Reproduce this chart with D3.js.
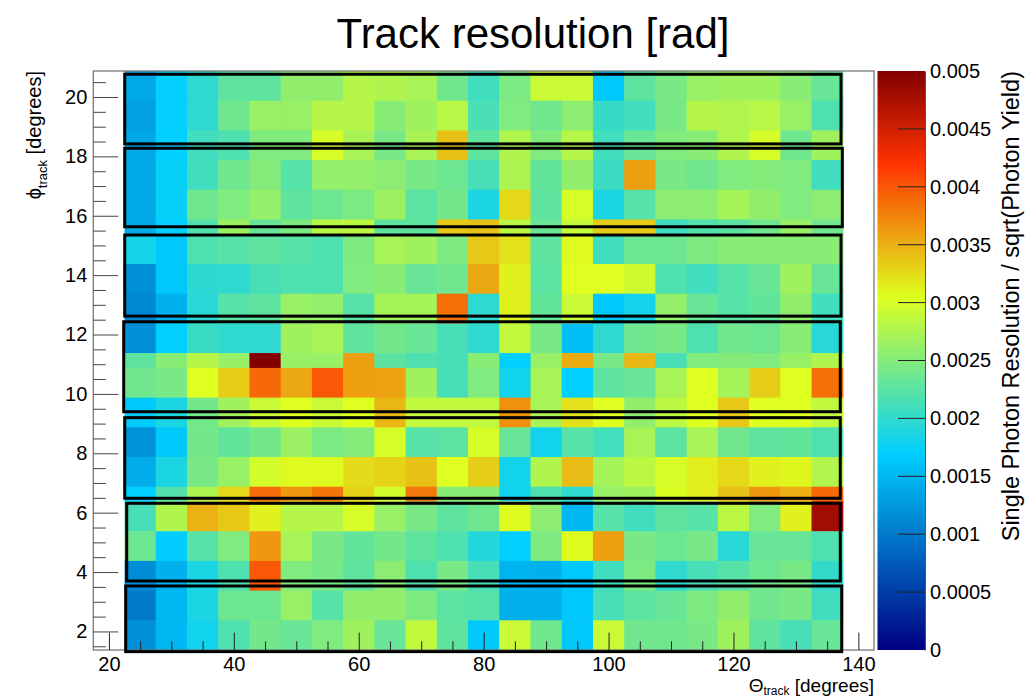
<!DOCTYPE html>
<html>
<head>
<meta charset="utf-8">
<script src="https://cdn.jsdelivr.net/npm/d3@7"></script>
<style>
  body { margin: 0; background: #fff; }
  text { font-family: "Liberation Sans", Arial, Helvetica, sans-serif; }
</style>
</head>
<body>
<svg id="chart" width="1029" height="700"></svg>
<script>
// ---------------- DATA ----------------
// theta bin edges (degrees), 5-degree bins
const thetaEdges = [22.5, 27.5, 32.5, 37.5, 42.5, 47.5, 52.5, 57.5, 62.5, 67.5, 72.5, 77.5,
  82.5, 87.5, 92.5, 97.5, 102.5, 107.5, 112.5, 117.5, 122.5, 127.5, 132.5, 137.5];
// phi row edges (degrees), top to bottom
const phiEdges = [20.875, 19.875, 18.875, 17.875, 16.875, 15.875, 15.375, 14.375, 13.375, 12.375,
  11.375, 10.875, 9.875, 8.875, 7.875, 6.875, 6.375, 5.375, 4.375, 3.375, 2.375, 1.375];
// resolution values [rad], one array per phi row (top to bottom), 23 theta bins each
const resolution = [
  [0.00138,0.00172,0.00199,0.00228,0.00228,0.00258,0.00258,0.00280,0.00277,0.00272,0.00238,0.00209,0.00245,0.00292,0.00292,0.00164,0.00228,0.00243,0.00262,0.00267,0.00267,0.00253,0.00233],
  [0.00131,0.00172,0.00199,0.00238,0.00262,0.00262,0.00280,0.00280,0.00253,0.00267,0.00282,0.00215,0.00248,0.00238,0.00255,0.00203,0.00209,0.00243,0.00280,0.00278,0.00282,0.00262,0.00218],
  [0.00138,0.00170,0.00209,0.00218,0.00248,0.00248,0.00300,0.00272,0.00243,0.00272,0.00340,0.00228,0.00277,0.00248,0.00280,0.00209,0.00233,0.00248,0.00253,0.00277,0.00300,0.00238,0.00267],
  [0.00138,0.00174,0.00209,0.00238,0.00250,0.00223,0.00260,0.00260,0.00255,0.00243,0.00236,0.00213,0.00274,0.00230,0.00258,0.00207,0.00359,0.00243,0.00238,0.00248,0.00250,0.00248,0.00209],
  [0.00138,0.00174,0.00238,0.00248,0.00260,0.00228,0.00236,0.00245,0.00265,0.00226,0.00240,0.00187,0.00327,0.00228,0.00300,0.00187,0.00223,0.00255,0.00255,0.00270,0.00258,0.00248,0.00255],
  [0.00140,0.00170,0.00220,0.00265,0.00232,0.00246,0.00282,0.00285,0.00228,0.00228,0.00336,0.00340,0.00284,0.00233,0.00290,0.00335,0.00335,0.00209,0.00220,0.00226,0.00238,0.00262,0.00238],
  [0.00183,0.00164,0.00218,0.00223,0.00228,0.00223,0.00218,0.00246,0.00272,0.00267,0.00246,0.00336,0.00322,0.00228,0.00308,0.00209,0.00236,0.00236,0.00246,0.00253,0.00253,0.00253,0.00253],
  [0.00118,0.00164,0.00197,0.00199,0.00213,0.00218,0.00218,0.00248,0.00253,0.00233,0.00238,0.00354,0.00313,0.00226,0.00305,0.00305,0.00295,0.00218,0.00209,0.00223,0.00233,0.00267,0.00233],
  [0.00112,0.00145,0.00195,0.00223,0.00228,0.00262,0.00260,0.00223,0.00270,0.00270,0.00386,0.00199,0.00313,0.00230,0.00292,0.00164,0.00182,0.00260,0.00233,0.00223,0.00230,0.00258,0.00209],
  [0.00118,0.00170,0.00205,0.00199,0.00199,0.00267,0.00272,0.00228,0.00240,0.00233,0.00213,0.00199,0.00287,0.00243,0.00158,0.00199,0.00238,0.00243,0.00218,0.00238,0.00236,0.00253,0.00194],
  [0.00228,0.00253,0.00280,0.00262,0.00500,0.00262,0.00262,0.00359,0.00226,0.00218,0.00213,0.00253,0.00170,0.00262,0.00352,0.00243,0.00345,0.00213,0.00248,0.00250,0.00248,0.00262,0.00277],
  [0.00238,0.00243,0.00305,0.00333,0.00390,0.00354,0.00399,0.00359,0.00357,0.00267,0.00213,0.00248,0.00181,0.00272,0.00170,0.00228,0.00233,0.00272,0.00305,0.00270,0.00333,0.00305,0.00386],
  [0.00167,0.00187,0.00240,0.00267,0.00292,0.00305,0.00292,0.00305,0.00345,0.00287,0.00287,0.00287,0.00367,0.00272,0.00322,0.00305,0.00258,0.00284,0.00305,0.00336,0.00305,0.00305,0.00287],
  [0.00120,0.00164,0.00240,0.00230,0.00240,0.00264,0.00245,0.00250,0.00300,0.00223,0.00226,0.00300,0.00233,0.00181,0.00223,0.00211,0.00272,0.00226,0.00272,0.00238,0.00228,0.00230,0.00218],
  [0.00142,0.00187,0.00243,0.00262,0.00298,0.00308,0.00308,0.00325,0.00330,0.00340,0.00305,0.00333,0.00181,0.00277,0.00343,0.00270,0.00284,0.00300,0.00315,0.00327,0.00313,0.00310,0.00278],
  [0.00170,0.00220,0.00274,0.00327,0.00388,0.00363,0.00383,0.00330,0.00298,0.00381,0.00253,0.00253,0.00181,0.00218,0.00199,0.00262,0.00267,0.00303,0.00315,0.00340,0.00363,0.00350,0.00390],
  [0.00213,0.00277,0.00348,0.00336,0.00313,0.00280,0.00280,0.00300,0.00262,0.00243,0.00228,0.00238,0.00306,0.00255,0.00151,0.00223,0.00209,0.00228,0.00223,0.00284,0.00248,0.00313,0.00480],
  [0.00236,0.00168,0.00223,0.00248,0.00363,0.00272,0.00243,0.00230,0.00240,0.00228,0.00218,0.00192,0.00170,0.00246,0.00306,0.00359,0.00243,0.00236,0.00243,0.00194,0.00233,0.00233,0.00218],
  [0.00115,0.00145,0.00187,0.00218,0.00399,0.00248,0.00243,0.00228,0.00255,0.00218,0.00243,0.00213,0.00148,0.00145,0.00164,0.00209,0.00246,0.00199,0.00213,0.00223,0.00236,0.00243,0.00201],
  [0.00099,0.00151,0.00187,0.00236,0.00236,0.00262,0.00223,0.00258,0.00258,0.00246,0.00226,0.00223,0.00145,0.00145,0.00164,0.00213,0.00226,0.00233,0.00246,0.00258,0.00238,0.00243,0.00209],
  [0.00118,0.00151,0.00181,0.00218,0.00240,0.00233,0.00248,0.00267,0.00233,0.00287,0.00228,0.00164,0.00292,0.00238,0.00164,0.00292,0.00238,0.00238,0.00243,0.00267,0.00228,0.00213,0.00233]
];
// bar outlines (degrees)
const boxThetaLow  = [22.53, 22.53, 22.53, 22.37, 22.53, 22.85, 22.69];
const boxThetaHigh = [137.22, 137.43, 137.22, 137.1, 137.1, 137.1, 137.33];
const boxPhiLow    = [18.42, 15.63, 12.62, 9.40, 6.485, 3.70, 1.32];
const boxPhiHigh   = [20.765, 18.273, 15.35, 12.43, 9.20, 6.316, 3.53];
// axes
const xTickValues = [20, 40, 60, 80, 100, 120, 140];
const yTickValues = [2, 4, 6, 8, 10, 12, 14, 16, 18, 20];
const zTickValues = [0, 0.0005, 0.001, 0.0015, 0.002, 0.0025, 0.003, 0.0035, 0.004, 0.0045, 0.005];
const zTickLabels = ["0", "0.0005", "0.001", "0.0015", "0.002", "0.0025", "0.003", "0.0035", "0.004", "0.0045", "0.005"];
const paletteStops = [0, 0.34, 0.61, 0.84, 1.0];
const paletteColors = ["#000082", "#00cfff", "#deff1f", "#ff3300", "#820000"];

// ---------------- CHART ----------------
const svg = d3.select("#chart");
const frame = { x0: 93.3, x1: 874, y0: 71, y1: 650 };
const zMax = 0.005;
const FONT = '"Liberation Sans", Arial, sans-serif';

const x = d3.scaleLinear().domain([17.5, 142.5]).range([frame.x0, frame.x1]);
const y = d3.scaleLinear().domain([1.375, 20.875]).range([frame.y1, frame.y0]);
const color = d3.scaleLinear()
  .domain(paletteStops.map(s => s * zMax))
  .range(paletteColors)
  .interpolate(d3.interpolateRgb)
  .clamp(true);

// cells
const cells = [];
resolution.forEach((row, r) => {
  row.forEach((v, c) => {
    cells.push({ t0: thetaEdges[c], t1: thetaEdges[c + 1], p0: phiEdges[r + 1], p1: phiEdges[r], v });
  });
});
svg.append("g").selectAll("rect").data(cells).join("rect")
  .attr("x", d => x(d.t0))
  .attr("y", d => y(d.p1))
  .attr("width", d => x(d.t1) - x(d.t0) + 0.6)
  .attr("height", d => y(d.p0) - y(d.p1) + 0.6)
  .attr("fill", d => color(d.v));

// frame
svg.append("rect")
  .attr("x", frame.x0).attr("y", frame.y0)
  .attr("width", frame.x1 - frame.x0).attr("height", frame.y1 - frame.y0)
  .attr("fill", "none").attr("stroke", "#6e6e6e").attr("stroke-width", 1.2);

// boxes
const boxes = boxThetaLow.map((t, i) => ({ t0: t, t1: boxThetaHigh[i], p0: boxPhiLow[i], p1: boxPhiHigh[i] }));
svg.append("g").selectAll("rect").data(boxes).join("rect")
  .attr("x", d => x(d.t0)).attr("y", d => y(d.p1))
  .attr("width", d => x(d.t1) - x(d.t0))
  .attr("height", d => y(d.p0) - y(d.p1))
  .attr("fill", "none").attr("stroke", "#000").attr("stroke-width", 3);

// x axis
const xMinor = d3.range(20, 141, 5).filter(v => v % 20 !== 0);
const gxMinor = svg.append("g").attr("transform", `translate(0,${frame.y1})`)
  .call(d3.axisBottom(x).tickValues(xMinor).tickSize(-8.7).tickFormat(""));
const gx = svg.append("g").attr("transform", `translate(0,${frame.y1})`)
  .call(d3.axisBottom(x).tickValues(xTickValues).tickSize(-17.4).tickPadding(7).tickFormat(d3.format("d")));
[gxMinor, gx].forEach(g => {
  g.select(".domain").remove();
  g.selectAll("line").attr("stroke", "#222");
});
gx.selectAll("text").attr("font-size", 20).attr("fill", "#000").attr("font-family", FONT);

// y axis
const yMinor = d3.range(1.5, 20.6, 0.5).filter(v => v % 2 !== 0);
const gyMinor = svg.append("g").attr("transform", `translate(${frame.x0},0)`)
  .call(d3.axisLeft(y).tickValues(yMinor).tickSize(-12.5).tickFormat(""));
const gy = svg.append("g").attr("transform", `translate(${frame.x0},0)`)
  .call(d3.axisLeft(y).tickValues(yTickValues).tickSize(-25).tickPadding(6).tickFormat(d3.format("d")));
[gyMinor, gy].forEach(g => {
  g.select(".domain").remove();
  g.selectAll("line").attr("stroke", "#444");
});
gy.selectAll("text").attr("font-size", 20).attr("fill", "#000").attr("font-family", FONT);

// colour bar
const cb = { x0: 877.5, x1: 925, y0: frame.y0, y1: frame.y1 };
const defs = svg.append("defs");
const grad = defs.append("linearGradient").attr("id", "pal")
  .attr("x1", 0).attr("y1", 1).attr("x2", 0).attr("y2", 0);
grad.selectAll("stop").data(paletteStops).join("stop")
  .attr("offset", d => d)
  .attr("stop-color", (d, i) => paletteColors[i]);
svg.append("rect").attr("x", cb.x0).attr("y", cb.y0)
  .attr("width", cb.x1 - cb.x0).attr("height", cb.y1 - cb.y0)
  .attr("fill", "url(#pal)");
const z = d3.scaleLinear().domain([0, zMax]).range([cb.y1, cb.y0]);
const gz = svg.append("g").attr("transform", `translate(${cb.x1},0)`)
  .call(d3.axisRight(z).tickValues(zTickValues).tickSize(0).tickPadding(5)
    .tickFormat((d, i) => zTickLabels[i]));
gz.select(".domain").attr("stroke", "#555");
gz.selectAll("text").attr("font-size", 20).attr("fill", "#000").attr("font-family", FONT);
svg.append("g").selectAll("line").data(zTickValues.slice(1, -1)).join("line")
  .attr("x1", cb.x1 - 27).attr("x2", cb.x1)
  .attr("y1", d => z(d)).attr("y2", d => z(d))
  .attr("stroke", "#222").attr("stroke-width", 1);

// titles
svg.append("text").attr("x", 533).attr("y", 48).attr("text-anchor", "middle")
  .attr("font-size", 42).text("Track resolution [rad]");

const xt = svg.append("text").attr("x", frame.x1).attr("y", 692).attr("text-anchor", "end").attr("font-size", 19);
xt.append("tspan").text("Θ");
xt.append("tspan").attr("font-size", 12).attr("dy", 3).text("track");
xt.append("tspan").attr("dy", -3).text(" [degrees]");

const yt = svg.append("text").attr("transform", `translate(41,${frame.y0}) rotate(-90)`)
  .attr("text-anchor", "end").attr("font-size", 20);
yt.append("tspan").text("ϕ");
yt.append("tspan").attr("font-size", 13).attr("dy", 6).text("track");
yt.append("tspan").attr("dy", -6).text(" [degrees]");

svg.append("text").attr("transform", `translate(1019,${frame.y0}) rotate(-90)`)
  .attr("text-anchor", "end").attr("font-size", 23.5)
  .text("Single Photon Resolution / sqrt(Photon Yield)");
</script>
</body>
</html>
